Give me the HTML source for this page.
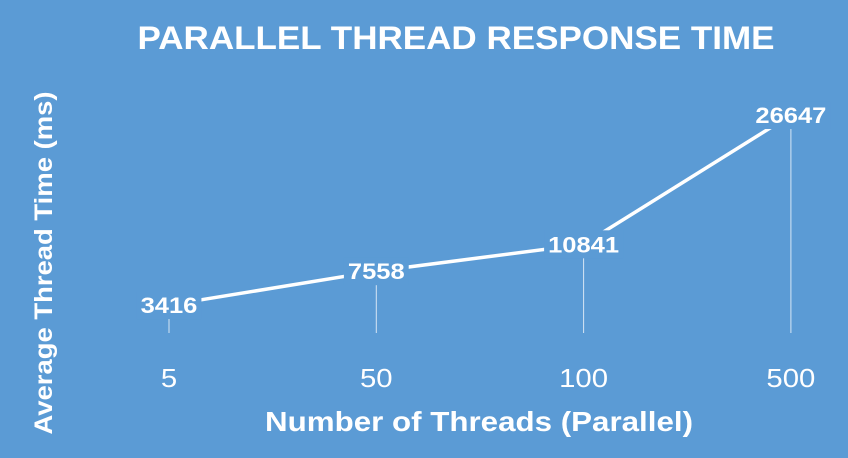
<!DOCTYPE html>
<html><head><meta charset="utf-8"><style>
body{margin:0;background:#5B9BD5;}
svg{display:block;font-family:"Liberation Sans",sans-serif;}
</style></head><body>
<svg width="848" height="458">
<rect width="848" height="458" fill="#5B9BD5"/>
<text x="456" y="49" text-anchor="middle" font-size="32" font-weight="bold" fill="#fff" textLength="637" lengthAdjust="spacingAndGlyphs">PARALLEL THREAD RESPONSE TIME</text>
<text x="479" y="431" text-anchor="middle" font-size="28" font-weight="bold" fill="#fff" textLength="428" lengthAdjust="spacingAndGlyphs">Number of Threads (Parallel)</text>
<text transform="translate(52,263) rotate(-90)" text-anchor="middle" font-size="25" font-weight="bold" fill="#fff" textLength="343" lengthAdjust="spacingAndGlyphs">Average Thread Time (ms)</text>
<g id="plot"></g>
</svg>
<script>
const categories=["5","50","100","500"];
const values=[3416,7558,10841,26647];
const labels=["3416","7558","10841","26647"];
const NS="http://www.w3.org/2000/svg";
const g=document.getElementById('plot');
function xPos(i){return 169+i*207.3;}
function yPos(v){return 333-v*0.00818;}
function mk(t,a){const e=document.createElementNS(NS,t);for(const k in a)e.setAttribute(k,a[k]);g.appendChild(e);return e;}
values.forEach((v,i)=>{
  const l=mk('line',{x1:xPos(i),x2:xPos(i),y1:yPos(v),y2:333,stroke:'#fff','stroke-width':1,opacity:0.75});
  
  
});
const pl=mk('polyline',{points:values.map((v,i)=>xPos(i)+','+yPos(v)).join(' '),fill:'none',stroke:'#fff','stroke-width':3.5});


values.forEach((v,i)=>{
  const tw=labels[i].length*14.2;
  const w=tw+8;
  const r=mk('rect',{x:xPos(i)-w/2,y:yPos(v)-14,width:w,height:28,fill:'#5B9BD5'});
  
  
  const t=mk('text',{x:xPos(i),y:yPos(v)+8,'text-anchor':'middle','font-size':22,'font-weight':'bold',fill:'#fff',textLength:tw,lengthAdjust:'spacingAndGlyphs'});
  t.textContent=labels[i];
  
  
  const c=mk('text',{x:xPos(i),y:387,'text-anchor':'middle','font-size':26,fill:'#fff',textLength:categories[i].length*16.3,lengthAdjust:'spacingAndGlyphs'});
  c.textContent=categories[i];
  
  
});
</script>
</body></html>
